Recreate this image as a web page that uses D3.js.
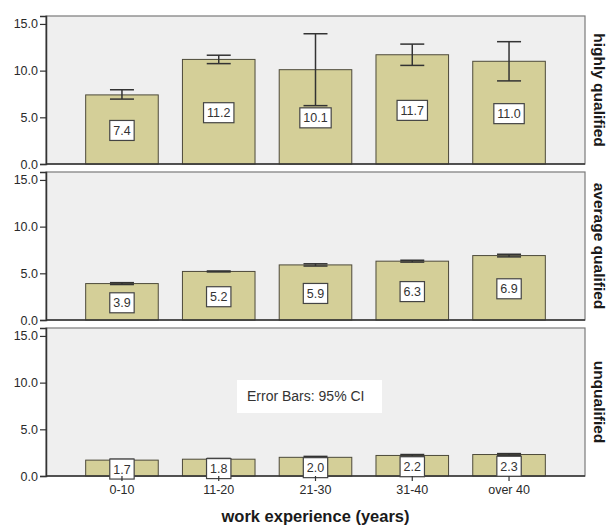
<!DOCTYPE html>
<html>
<head>
<meta charset="utf-8">
<script src="https://cdn.jsdelivr.net/npm/d3@7"></script>
<style>
  html, body { margin: 0; padding: 0; background: #ffffff; }
  svg { display: block; }
  text { font-family: "Liberation Sans", Arial, sans-serif; }
</style>
</head>
<body>
<svg id="chart" width="607" height="526"></svg>
<script>
// Work-experience groups on the x axis
const categories = ["0-10", "11-20", "21-30", "31-40", "over 40"];
// Qualification level shown in each row panel
const groups = ["highly qualified", "average qualified", "unqualified"];

// Mean values and 95% confidence limits per panel
const highlyMeans = [7.4, 11.2, 10.1, 11.7, 11.0];
const highlyLow   = [6.95, 10.75, 6.25, 10.56, 8.9];
const highlyHigh  = [7.95, 11.65, 13.95, 12.84, 13.1];

const averageMeans = [3.9, 5.2, 5.9, 6.3, 6.9];
const averageLow   = [3.8, 5.15, 5.78, 6.2, 6.76];
const averageHigh  = [4.0, 5.25, 6.02, 6.4, 7.04];

const unqualMeans = [1.7, 1.8, 2.0, 2.2, 2.3];
const unqualLow   = [1.62, 1.72, 1.9, 2.1, 2.2];
const unqualHigh  = [1.78, 1.88, 2.1, 2.3, 2.4];

const yTicks = [0, 5, 10, 15];
const noteText = "Error Bars: 95% CI";
const xTitle = "work experience (years)";

const panels = [
  { label: groups[0], means: highlyMeans, low: highlyLow, high: highlyHigh },
  { label: groups[1], means: averageMeans, low: averageLow, high: averageHigh },
  { label: groups[2], means: unqualMeans, low: unqualLow, high: unqualHigh }
];

const svg = d3.select("#chart");
const left = 46, right = 585;
const panelTops = [16, 172, 328];
const panelH = 148;

const x = d3.scaleBand()
  .domain(categories)
  .range([left, right])
  .paddingInner(0.25)
  .paddingOuter(0.41);

const y = d3.scaleLinear().domain([0, 15.85]).range([panelH, 0]);
const fmt = d3.format(".1f");

panels.forEach((p, pi) => {
  const g = svg.append("g").attr("transform", `translate(0,${panelTops[pi]})`);

  // panel background and frame
  g.append("rect")
    .attr("x", left).attr("y", 0)
    .attr("width", right - left).attr("height", panelH)
    .attr("fill", "#efefef")
    .attr("stroke", "#7a7a7a").attr("stroke-width", 1.2);

  // y axis
  const yAxis = g.append("g")
    .attr("transform", `translate(${left},0)`)
    .call(d3.axisLeft(y).tickValues(yTicks).tickFormat(fmt).tickSize(6).tickPadding(2));
  yAxis.select(".domain").attr("stroke", "#333").attr("stroke-width", 1.5);
  yAxis.selectAll(".tick line").attr("stroke", "#333").attr("stroke-width", 1.2);
  yAxis.selectAll(".tick text")
    .attr("fill", "#2a2a2a").style("font-size", "12.5px")
    .style("font-family", "'Liberation Sans', Arial, sans-serif");

  // bars
  g.selectAll("rect.bar")
    .data(p.means)
    .join("rect")
    .attr("class", "bar")
    .attr("x", (d, i) => x(categories[i]))
    .attr("width", x.bandwidth())
    .attr("y", d => y(d))
    .attr("height", d => y(0) - y(d))
    .attr("fill", "#d4cf98")
    .attr("stroke", "#4d4a3a").attr("stroke-width", 1);

  // baseline
  g.append("line")
    .attr("x1", left).attr("x2", right)
    .attr("y1", y(0)).attr("y2", y(0))
    .attr("stroke", "#333").attr("stroke-width", 1.5);

  // error bars
  const capW = 12;
  const eb = g.selectAll("g.err")
    .data(p.means.map((m, i) => ({ i, lo: p.low[i], hi: p.high[i] })))
    .join("g")
    .attr("class", "err")
    .attr("stroke", "#333").attr("stroke-width", 1.5);
  eb.append("line")
    .attr("x1", d => x(categories[d.i]) + x.bandwidth() / 2)
    .attr("x2", d => x(categories[d.i]) + x.bandwidth() / 2)
    .attr("y1", d => y(d.lo)).attr("y2", d => y(d.hi));
  ["lo", "hi"].forEach(k => {
    eb.append("line")
      .attr("x1", d => x(categories[d.i]) + x.bandwidth() / 2 - capW)
      .attr("x2", d => x(categories[d.i]) + x.bandwidth() / 2 + capW)
      .attr("y1", d => y(d[k])).attr("y2", d => y(d[k]));
  });

  // value labels, boxed, centred in each bar
  const lab = g.selectAll("g.val")
    .data(p.means)
    .join("g")
    .attr("class", "val")
    .attr("transform", (d, i) => `translate(${x(categories[i]) + x.bandwidth() / 2},${y(d / 2) + 1})`);
  lab.each(function (d) {
    const s = d3.select(this);
    const t = s.append("text")
      .attr("text-anchor", "middle")
      .attr("dy", "0.36em")
      .attr("fill", "#333")
      .style("font-size", "12.5px")
      .text(fmt(d));
    const w = t.node().getComputedTextLength();
    s.insert("rect", "text")
      .attr("x", -w / 2 - 3.5).attr("y", -10)
      .attr("width", w + 7).attr("height", 20)
      .attr("fill", "#ffffff")
      .attr("stroke", "#444").attr("stroke-width", 1.2);
  });

  // row label on the right
  g.append("text")
    .attr("transform", `translate(599,${panelH / 2}) rotate(90)`)
    .attr("text-anchor", "middle")
    .attr("dy", "0.35em")
    .attr("fill", "#1a1a1a")
    .style("font-size", "15.5px").style("font-weight", "bold")
    .text(p.label);

  // x axis only under the last panel
  if (pi === panels.length - 1) {
    const xAxis = g.append("g")
      .attr("transform", `translate(0,${panelH})`)
      .call(d3.axisBottom(x).tickSize(5).tickPadding(4));
    xAxis.select(".domain").remove();
    xAxis.selectAll(".tick line").attr("stroke", "#333").attr("stroke-width", 1.2);
    xAxis.selectAll(".tick text")
      .attr("fill", "#2a2a2a").style("font-size", "12.5px")
      .style("font-family", "'Liberation Sans', Arial, sans-serif");

    // note box
    const note = g.append("g");
    note.append("rect")
      .attr("x", 237).attr("y", 52)
      .attr("width", 145).attr("height", 33)
      .attr("fill", "#ffffff");
    note.append("text")
      .attr("x", 247).attr("y", 68.5)
      .attr("dy", "0.35em")
      .attr("fill", "#333")
      .style("font-size", "14px")
      .text(noteText);
  }
});

// x axis title
svg.append("text")
  .attr("x", (left + right) / 2).attr("y", 522)
  .attr("text-anchor", "middle")
  .attr("fill", "#1a1a1a")
  .style("font-size", "16.5px").style("font-weight", "bold")
  .text(xTitle);
</script>
</body>
</html>
